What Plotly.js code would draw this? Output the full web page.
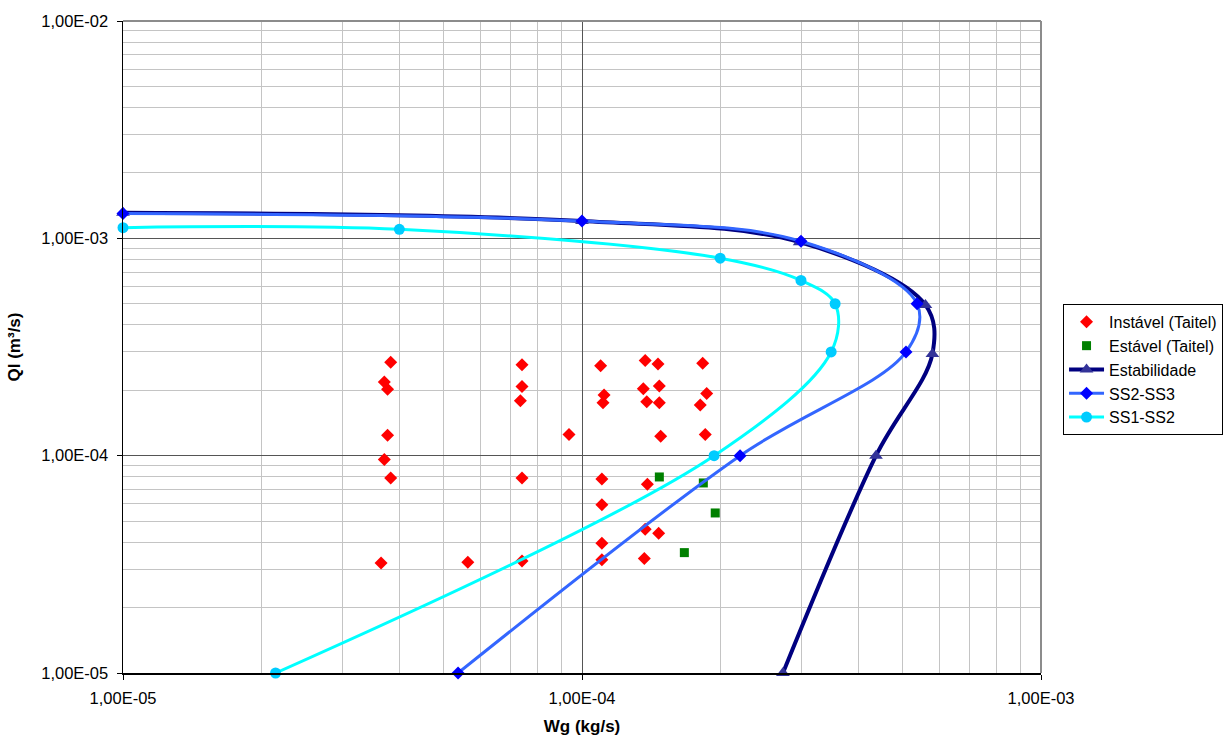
<!DOCTYPE html>
<html>
<head>
<meta charset="utf-8">
<script src="https://cdn.plot.ly/plotly-3.0.1.min.js"></script>
<style>html,body{margin:0;padding:0;background:#fff;}#chart{width:1226px;height:736px;}</style>
</head>
<body>
<div id="chart"></div>
<script>
// Instável (Taitel)
const instX = [3.83e-5, 3.71e-5, 3.77e-5, 3.77e-5, 3.71e-5, 3.83e-5, 3.65e-5, 5.64e-5,
  7.40e-5, 7.40e-5, 7.34e-5, 9.37e-5, 7.40e-5, 7.40e-5,
  1.098e-4, 1.117e-4, 1.111e-4, 1.105e-4, 1.105e-4, 1.105e-4, 1.105e-4,
  1.373e-4, 1.464e-4, 1.360e-4, 1.474e-4, 1.384e-4, 1.474e-4, 1.484e-4, 1.388e-4, 1.373e-4, 1.469e-4, 1.367e-4,
  1.832e-4, 1.869e-4, 1.810e-4, 1.856e-4];
const instY = [2.69e-4, 2.18e-4, 2.02e-4, 1.24e-4, 9.6e-5, 7.9e-5, 3.21e-5, 3.23e-5,
  2.62e-4, 2.08e-4, 1.79e-4, 1.25e-4, 7.9e-5, 3.28e-5,
  2.59e-4, 1.90e-4, 1.75e-4, 7.8e-5, 5.95e-5, 3.95e-5, 3.32e-5,
  2.74e-4, 2.64e-4, 2.03e-4, 2.09e-4, 1.77e-4, 1.75e-4, 1.23e-4, 7.39e-5, 4.58e-5, 4.39e-5, 3.36e-5,
  2.66e-4, 1.93e-4, 1.71e-4, 1.25e-4];
// Estável (Taitel)
const estX = [1.474e-4, 1.838e-4, 1.951e-4, 1.671e-4];
const estY = [7.98e-5, 7.49e-5, 5.45e-5, 3.58e-5];
// Estabilidade
const stabX = [1e-5, 1e-4, 2.98e-4, 5.6e-4, 5.8e-4, 4.37e-4, 2.74e-4];
const stabY = [1.31e-3, 1.2e-3, 9.6e-4, 4.94e-4, 2.94e-4, 1e-4, 1e-5];
// SS2-SS3
const ss23X = [1e-5, 1e-4, 3e-4, 5.37e-4, 5.08e-4, 2.21e-4, 5.37e-5];
const ss23Y = [1.3e-3, 1.2e-3, 9.7e-4, 5e-4, 3e-4, 1e-4, 1e-5];
// SS1-SS2
const ss12X = [1e-5, 4e-5, 2e-4, 3e-4, 3.56e-4, 3.49e-4, 1.94e-4, 2.15e-5];
const ss12Y = [1.12e-3, 1.1e-3, 8.1e-4, 6.4e-4, 5e-4, 3e-4, 1e-4, 1e-5];
// ticks
const xTickVals = [1e-5, 1e-4, 1e-3];
const xTickText = ['1,00E-05', '1,00E-04', '1,00E-03'];
const yTickVals = [1e-5, 1e-4, 1e-3, 1e-2];
const yTickText = ['1,00E-05', '1,00E-04', '1,00E-03', '1,00E-02'];

const FONT = 'Liberation Sans, Arial, sans-serif';

const traces = [
  {x: instX, y: instY, name: 'Instável (Taitel)', type: 'scatter', mode: 'markers',
   marker: {symbol: 'diamond', size: 10, color: '#ff0000'}, cliponaxis: false},
  {x: estX, y: estY, name: 'Estável (Taitel)', type: 'scatter', mode: 'markers',
   marker: {symbol: 'square', size: 9, color: '#008000'}, cliponaxis: false},
  {x: stabX, y: stabY, name: 'Estabilidade', type: 'scatter', mode: 'lines+markers',
   line: {color: '#000080', width: 4, shape: 'spline', smoothing: 1},
   marker: {symbol: 'triangle-up', size: 12, color: '#333399'}, cliponaxis: false},
  {x: ss23X, y: ss23Y, name: 'SS2-SS3', type: 'scatter', mode: 'lines+markers',
   line: {color: '#3366ff', width: 3, shape: 'spline', smoothing: 1},
   marker: {symbol: 'diamond', size: 10, color: '#0000ff'}, cliponaxis: false},
  {x: ss12X, y: ss12Y, name: 'SS1-SS2', type: 'scatter', mode: 'lines+markers',
   line: {color: '#00ffff', width: 3, shape: 'spline', smoothing: 1},
   marker: {symbol: 'circle', size: 11, color: '#00ccff'}, cliponaxis: false}
];

const layout = {
  width: 1226, height: 736,
  margin: {l: 123, r: 185, t: 21, b: 63, autoexpand: false},
  paper_bgcolor: '#ffffff', plot_bgcolor: '#ffffff',
  font: {family: FONT, size: 16, color: '#000'},
  showlegend: true,
  legend: {x: 1.024, xanchor: 'left', y: 0.566, yanchor: 'top',
    bordercolor: '#000', borderwidth: 1, bgcolor: '#fff',
    font: {family: FONT, size: 16, color: '#000'}, tracegroupgap: 0, itemwidth: 35},
  xaxis: {type: 'log', range: [-5, -3], tickvals: xTickVals, ticktext: xTickText,
    showline: true, linecolor: '#000', linewidth: 1.5, ticks: 'outside', ticklen: 5, tickcolor: '#000',
    showgrid: true, gridcolor: '#555555', gridwidth: 1, zeroline: false,
    minor: {dtick: 'D1', showgrid: true, gridcolor: '#c4c4c4', gridwidth: 1, ticks: ''},
    tickfont: {family: FONT, size: 16.5}, ticklabelstandoff: 5, automargin: false,
    title: {text: '<b>Wg (kg/s)</b>', font: {family: FONT, size: 17}, standoff: 14}},
  yaxis: {type: 'log', range: [-5, -2], tickvals: yTickVals, ticktext: yTickText,
    showline: true, linecolor: '#000', linewidth: 1.5, ticks: 'outside', ticklen: 5, tickcolor: '#000',
    showgrid: true, gridcolor: '#555555', gridwidth: 1, zeroline: false,
    minor: {dtick: 'D1', showgrid: true, gridcolor: '#c4c4c4', gridwidth: 1, ticks: ''},
    tickfont: {family: FONT, size: 16.5}, ticklabelstandoff: 5, automargin: false,
    title: {text: '<b>Ql (m³/s)</b>', font: {family: FONT, size: 17}, standoff: 16}},
  shapes: [
    {type: 'line', xref: 'paper', yref: 'paper', x0: 0, x1: 1, y0: 1, y1: 1, line: {color: '#8c8c8c', width: 2}, layer: 'above'},
    {type: 'line', xref: 'paper', yref: 'paper', x0: 1, x1: 1, y0: 0, y1: 1, line: {color: '#8c8c8c', width: 2}, layer: 'above'}
  ]
};

Plotly.newPlot('chart', traces, layout, {staticPlot: true, displayModeBar: false});
</script>
</body>
</html>
